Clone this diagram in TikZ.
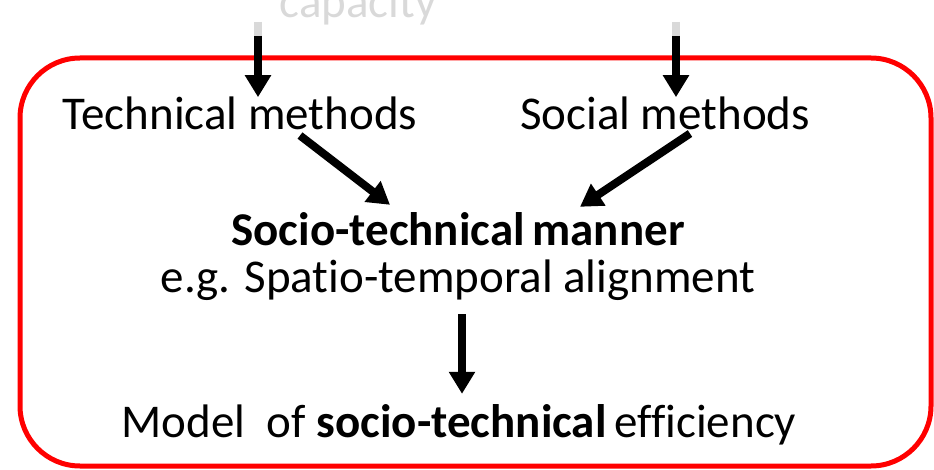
\documentclass[tikz,border=0pt]{standalone}
\usepackage{fontspec}
\setmainfont{Carlito}[Ligatures={NoCommon}]
\usetikzlibrary{arrows.meta}
\definecolor{faded}{HTML}{D9D9D9}
\begin{document}
\begin{tikzpicture}[x=1pt,y=-1pt,
  lbl/.style={anchor=base,inner sep=0pt,font=\fontsize{47}{56}\selectfont},
  arr/.style={line width=8pt,-{Triangle[width=25pt,length=22pt]}},
  fadedline/.style={faded,line width=8pt}]
\useasboundingbox (0,0) rectangle (934,470);
% labels
\node[lbl,text=faded] (cap) at (358,18) {capacity};
\node[lbl] (tm) at (240,130) {Technical methods};
\node[lbl] (sm) at (665,130) {Social methods};
\node[lbl] (stm) at (458,246) {\textbf{Socio-technical\hspace{-3pt} manner}};
\node[lbl] (eg) at (458,292) {e.g. Spatio-temporal alignment};
\node[lbl] (mod) at (459,437) {Model\ \ of \textbf{socio-technical}\hspace{-3pt} efficiency};
% incoming links from above, faded part
\coordinate (inL) at (258,22);
\coordinate (inR) at (676,22);
\coordinate (kL) at (258,36);
\coordinate (kR) at (676,36);
\draw[fadedline] (inL) -- (kL);
\draw[fadedline] (inR) -- (kR);
% frame
\node[draw=red,line width=5pt,rounded corners=60pt,minimum width=911pt,
  minimum height=408pt,inner sep=0pt] (frame) at (475.5,262) {};
% arrows
\draw[arr] (kL) -- (kL |- tm.north);
\draw[arr] (kR) -- (kR |- sm.north);
\draw[arr] ([xshift=60pt,yshift=-5pt]tm.south) -- ([xshift=-68pt,yshift=8pt]stm.north);
\draw[arr] ([xshift=25pt,yshift=-3pt]sm.south) -- ([xshift=122pt,yshift=6pt]stm.north);
\draw[arr] ([xshift=4pt,yshift=-14pt]eg.south) -- ([xshift=3pt,yshift=10pt]mod.north);
\end{tikzpicture}
\end{document}
